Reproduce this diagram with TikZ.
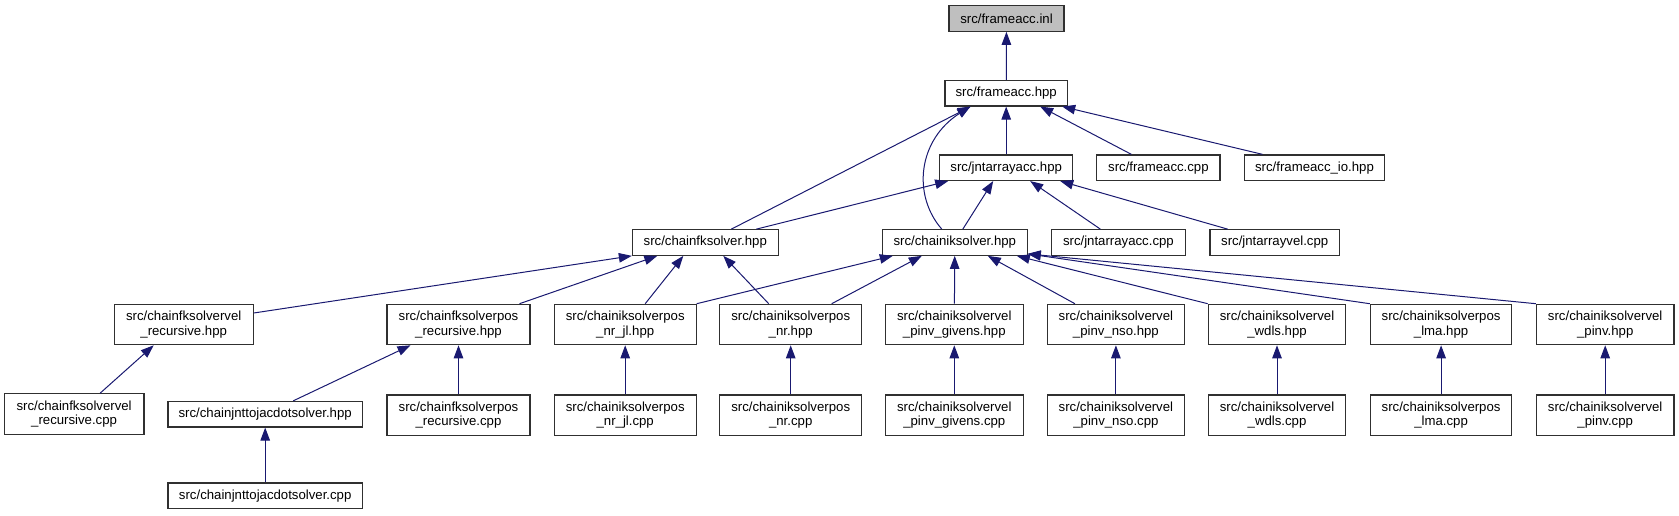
\documentclass[tikz,border=0pt]{standalone}
\usepackage{fontspec}
\setmainfont{Liberation Sans}
\usetikzlibrary{arrows.meta,calc,positioning}
\definecolor{EdgeBlue}{HTML}{191970}
\definecolor{Frame}{HTML}{303030}
\definecolor{Shade}{HTML}{BFBFBF}

\begin{document}
\begin{tikzpicture}[x=1pt, y=-1pt, node distance=49pt,
    filebox/.style={draw=Frame, line width=1.2pt, fill=white, inner sep=0pt, align=center,
      minimum height=25.5pt, font=\fontsize{13.2}{14.3}\selectfont},
    twoline/.style={filebox, minimum height=40.4pt},
    dep/.style={-{Triangle[length=13pt, width=9.5pt]}, color=EdgeBlue, line width=1pt}]
    \useasboundingbox (0,0) rectangle (1679,515);

    % top of the graph
    \node[filebox, fill=Shade, minimum width=115pt] (inl) at (1006.5,18.5) {src/frameacc.inl};
    \node[filebox, minimum width=122.4pt] (frhpp) at (1006.2,93.2) {src/frameacc.hpp};
    \node[filebox, minimum width=133.3pt] (jahpp) at (1006.2,167.7) {src/jntarrayacc.hpp};
    \node[filebox, minimum width=123.2pt] (frcpp) at (1158.4,167.7) {src/frameacc.cpp};
    \node[filebox, minimum width=140.3pt] (friohpp) at (1314.5,167.7) {src/frameacc\_io.hpp};

    % solvers
    \node[filebox, minimum width=145.7pt] (fkhpp) at (705.3,242.5) {src/chainfksolver.hpp};
    \node[filebox, minimum width=144.6pt] (ikhpp) at (954.8,242.5) {src/chainiksolver.hpp};
    \node[filebox, minimum width=134pt] (jacpp) at (1118.4,242.5) {src/jntarrayacc.cpp};
    \node[filebox, minimum width=129.4pt] (jvcpp) at (1274.7,242.5) {src/jntarrayvel.cpp};

    % headers
    \node[twoline, minimum width=138.9pt] (fkvelh) at (183.7,324.5) {src/chainfksolvervel\\\_recursive.hpp};
    \node[twoline, minimum width=142.9pt] (fkposh) at (458.5,324.5) {src/chainfksolverpos\\\_recursive.hpp};
    \node[twoline, minimum width=141.8pt] (nrjlh) at (625.2,324.5) {src/chainiksolverpos\\\_nr\_jl.hpp};
    \node[twoline, minimum width=142.2pt] (nrh) at (790.7,324.5) {src/chainiksolverpos\\\_nr.hpp};
    \node[twoline, minimum width=137.8pt] (givh) at (954.3,324.5) {src/chainiksolvervel\\\_pinv\_givens.hpp};
    \node[twoline, minimum width=137.6pt] (nsoh) at (1115.9,324.5) {src/chainiksolvervel\\\_pinv\_nso.hpp};
    \node[twoline, minimum width=137.5pt] (wdlsh) at (1277,324.5) {src/chainiksolvervel\\\_wdls.hpp};
    \node[twoline, minimum width=141.5pt] (lmah) at (1441.1,324.5) {src/chainiksolverpos\\\_lma.hpp};
    \node[twoline, minimum width=137.5pt] (pinvh) at (1605.2,324.5) {src/chainiksolvervel\\\_pinv.hpp};

    % sources
    \node[twoline, minimum width=139.6pt] (fkvelc) at (74.1,414) {src/chainfksolvervel\\\_recursive.cpp};
    \node[filebox, minimum width=194.6pt] (jdh) at (265.2,414.2) {src/chainjnttojacdotsolver.hpp};
    \node[twoline, minimum width=142.9pt, below=of fkposh] (fkposc) {src/chainfksolverpos\\\_recursive.cpp};
    \node[twoline, minimum width=141.8pt, below=of nrjlh] (nrjlc) {src/chainiksolverpos\\\_nr\_jl.cpp};
    \node[twoline, minimum width=142.2pt, below=of nrh] (nrc) {src/chainiksolverpos\\\_nr.cpp};
    \node[twoline, minimum width=137.8pt, below=of givh] (givc) {src/chainiksolvervel\\\_pinv\_givens.cpp};
    \node[twoline, minimum width=137.6pt, below=of nsoh] (nsoc) {src/chainiksolvervel\\\_pinv\_nso.cpp};
    \node[twoline, minimum width=137.5pt, below=of wdlsh] (wdlsc) {src/chainiksolvervel\\\_wdls.cpp};
    \node[twoline, minimum width=141.5pt, below=of lmah] (lmac) {src/chainiksolverpos\\\_lma.cpp};
    \node[twoline, minimum width=137.5pt, below=of pinvh] (pinvc) {src/chainiksolvervel\\\_pinv.cpp};
    \node[filebox, minimum width=194.6pt] (jdc) at (265.2,495.8) {src/chainjnttojacdotsolver.cpp};

    % includes
    \draw[dep] (frhpp) -- (inl);
    \draw[dep] ([xshift=26pt]fkhpp.north) -- ([xshift=-35.5pt]frhpp.south);
    \draw[dep] ([xshift=-13pt]ikhpp.north) .. controls (912,195) and (918,140) .. ([xshift=-36pt]frhpp.south);
    \draw[dep] (jahpp) -- (frhpp);
    \draw[dep] ([xshift=-27pt]frcpp.north) -- ([xshift=34pt]frhpp.south);
    \draw[dep] ([xshift=-52pt]friohpp.north) -- ([xshift=56pt]frhpp.south);
    \draw[dep] ([xshift=51pt]fkhpp.north) -- ([xshift=-58pt]jahpp.south);
    \draw[dep] ([xshift=8pt]ikhpp.north) -- ([xshift=-13pt]jahpp.south);
    \draw[dep] ([xshift=-18pt]jacpp.north) -- ([xshift=24pt]jahpp.south);
    \draw[dep] ([xshift=-47pt]jvcpp.north) -- ([xshift=54pt]jahpp.south);

    \draw[dep] ([yshift=11.5pt]fkvelh.east) -- (fkhpp.south west);
    \draw[dep] ([xshift=61pt]fkposh.north) -- ([xshift=-48pt]fkhpp.south);
    \draw[dep] ([xshift=20pt]nrjlh.north) -- ([xshift=-22pt]fkhpp.south);
    \draw[dep] ([xshift=-22pt]nrh.north) -- ([xshift=18pt]fkhpp.south);
    \draw[dep] (nrjlh.north east) -- ([xshift=-62pt]ikhpp.south);
    \draw[dep] ([xshift=41pt]nrh.north) -- ([xshift=-33pt]ikhpp.south);
    \draw[dep] (givh) -- (ikhpp);
    \draw[dep] ([xshift=-41pt]nsoh.north) -- ([xshift=33pt]ikhpp.south);
    \draw[dep] (wdlsh.north west) -- ([xshift=62pt]ikhpp.south);
    \draw[dep] (lmah.north west) -- ([yshift=2pt]ikhpp.south east);
    \draw[dep] (pinvh.north west) -- ([yshift=2pt]ikhpp.south east);

    \draw[dep] ([xshift=26pt]fkvelc.north) -- ([xshift=-30pt]fkvelh.south);
    \draw[dep] ([xshift=28pt]jdh.north) -- ([xshift=-48pt]fkposh.south);
    \draw[dep] (fkposc) -- (fkposh);
    \draw[dep] (jdc) -- (jdh);
    \draw[dep] (nrjlc) -- (nrjlh);
    \draw[dep] (nrc) -- (nrh);
    \draw[dep] (givc) -- (givh);
    \draw[dep] (nsoc) -- (nsoh);
    \draw[dep] (wdlsc) -- (wdlsh);
    \draw[dep] (lmac) -- (lmah);
    \draw[dep] (pinvc) -- (pinvh);
\end{tikzpicture}
\end{document}
